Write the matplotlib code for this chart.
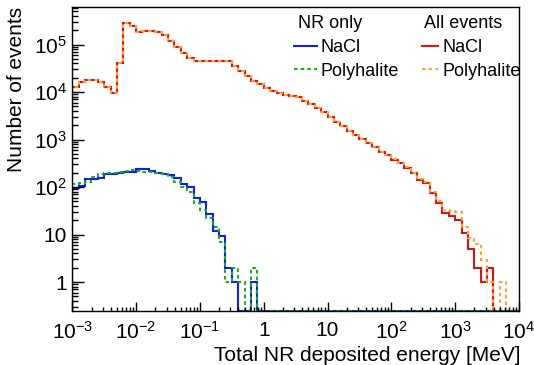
import numpy as np
import matplotlib
matplotlib.use('Agg')
import matplotlib.pyplot as plt
from matplotlib.lines import Line2D
from matplotlib.ticker import FixedLocator, FixedFormatter, LogLocator, NullFormatter

plt.rcParams['font.family'] = ['Liberation Sans', 'DejaVu Sans']
plt.rcParams['mathtext.fontset'] = 'custom'
plt.rcParams['mathtext.rm'] = 'Liberation Sans'
plt.rcParams['mathtext.it'] = 'Liberation Sans:italic'

# 70 log bins, 10 per decade, 1 keV .. 10 GeV
edges = np.logspace(-3, 4, 71)

all_nacl = [1.3e4, 1.6e4, 1.8e4, 1.8e4, 1.6e4, 1.3e4, 9.7e3, 4.0e4, 2.9e5, 2.4e5,
            1.8e5, 1.95e5, 1.95e5, 1.8e5, 1.55e5, 1.17e5, 8.8e4, 6.5e4, 5.1e4, 4.6e4,
            4.4e4, 4.5e4, 4.6e4, 4.6e4, 4.4e4, 3.6e4, 2.8e4, 2.2e4, 1.7e4, 1.5e4,
            1.2e4, 1.07e4, 9.4e3, 8.5e3, 8.2e3, 7.7e3, 6.6e3, 5.6e3, 4.6e3, 3.8e3,
            2950, 2350, 1900, 1530, 1240, 1010, 860, 710, 550, 470,
            370, 315, 248, 195, 140, 120, 74, 45, 28, 24.5,
            20, 10.6, 5, 2, 1, 2, 0, 0, 0, 0]

all_poly = [1.3e4, 1.6e4, 1.8e4, 1.8e4, 1.6e4, 1.3e4, 9.7e3, 4.0e4, 2.9e5, 2.4e5,
            1.8e5, 1.95e5, 1.95e5, 1.8e5, 1.55e5, 1.17e5, 8.8e4, 6.5e4, 5.1e4, 4.6e4,
            4.4e4, 4.5e4, 4.6e4, 4.6e4, 4.4e4, 3.6e4, 2.8e4, 2.2e4, 1.7e4, 1.5e4,
            1.2e4, 1.07e4, 9.4e3, 8.5e3, 8.2e3, 7.7e3, 6.6e3, 5.6e3, 4.6e3, 3.8e3,
            2950, 2350, 1900, 1530, 1240, 1010, 860, 710, 550, 470,
            380, 315, 260, 195, 150, 125, 80, 52, 33, 32,
            30, 14.6, 8.3, 6.2, 2.9, 1, 0, 1, 0, 0]

nr_nacl = [97, 103, 145, 145, 152, 186, 186, 200, 210, 210,
           236, 236, 220, 200, 186, 178, 152, 115, 98, 58,
           49, 27, 12, 9.3, 2, 1, 0, 0, 1, 0] + [0] * 40

nr_poly = [115, 120, 129, 165, 185, 194, 200, 210, 221, 228,
           221, 210, 210, 194, 185, 165, 129, 98, 80, 47,
           33, 22, 14.6, 7, 1, 2, 1, 0, 2, 0] + [0] * 40

ymin, ymax = 0.249, 6.07e5
W, H = 534, 365


def fx(px):
    return px / W


def fy(py):
    return 1 - py / H


fig = plt.figure(figsize=(W / 100, H / 100), dpi=100)
ax = fig.add_axes([fx(72.3), fy(310.7), fx(519) - fx(72.3), fy(7.3) - fy(310.7)])


def draw_hist(vals, color, ls):
    v = np.asarray(vals, dtype=float)
    v = np.where(v > 0, v, ymin)
    ax.stairs(v, edges, baseline=ymin, color=color, lw=1.5, linestyle=ls)


red = '#d81414'
orange = '#ffa040'
blue = '#1020e6'
green = '#22a822'
dash = (0, (1.7, 1.5))

draw_hist(all_nacl, red, '-')
draw_hist(all_poly, orange, dash)
draw_hist(nr_nacl, blue, '-')
draw_hist(nr_poly, green, dash)

ax.set_xscale('log')
ax.set_yscale('log')
ax.set_xlim(1e-3, 1e4)
ax.set_ylim(ymin, ymax)

ax.xaxis.set_major_locator(FixedLocator([1e-3, 1e-2, 1e-1, 1, 10, 1e2, 1e3, 1e4]))
ax.xaxis.set_major_formatter(FixedFormatter(['$10^{-3}$', '$10^{-2}$', '$10^{-1}$', '1', '10',
                                             '$10^{2}$', '$10^{3}$', '$10^{4}$']))
ax.yaxis.set_major_locator(FixedLocator([1, 10, 1e2, 1e3, 1e4, 1e5]))
ax.yaxis.set_major_formatter(FixedFormatter(['1', '10', '$10^{2}$', '$10^{3}$', '$10^{4}$', '$10^{5}$']))
for axis in (ax.xaxis, ax.yaxis):
    axis.set_minor_locator(LogLocator(base=10, subs=np.arange(2, 10), numticks=30))
    axis.set_minor_formatter(NullFormatter())

ax.tick_params(which='both', direction='in', top=False, right=False, width=1, labelsize=15)
ax.tick_params(axis='y', which='major', length=8.6, pad=4)
ax.tick_params(axis='y', which='minor', length=4.3)
ax.tick_params(axis='x', which='major', length=6.5, pad=7.5)
ax.tick_params(axis='x', which='minor', length=3.2)
for s in ax.spines.values():
    s.set_linewidth(1)

fig.text(fx(16.5), fy(7), 'Number of events', rotation=90, ha='center', va='top', fontsize=15)
fig.text(fx(520), fy(361), 'Total NR deposited energy [MeV]', ha='right', va='baseline', fontsize=15)

# legend block, drawn by hand in two columns
fig.text(fx(298), fy(28), 'NR only', fontsize=13, va='baseline')
fig.text(fx(424), fy(28), 'All events', fontsize=13, va='baseline')
keys = [(294, 317, 46, blue, '-', 321, 'NaCl'),
        (294, 317, 69, green, dash, 321, 'Polyhalite'),
        (422, 438, 46, red, '-', 442, 'NaCl'),
        (422, 438, 69, orange, dash, 442, 'Polyhalite')]
for x0, x1, y, c, ls, tx, label in keys:
    fig.add_artist(Line2D([fx(x0), fx(x1)], [fy(y), fy(y)], color=c, lw=1.5, linestyle=ls))
    fig.text(fx(tx), fy(y + 6.5), label, fontsize=13, va='baseline')

fig.savefig('out.png', dpi=100)
